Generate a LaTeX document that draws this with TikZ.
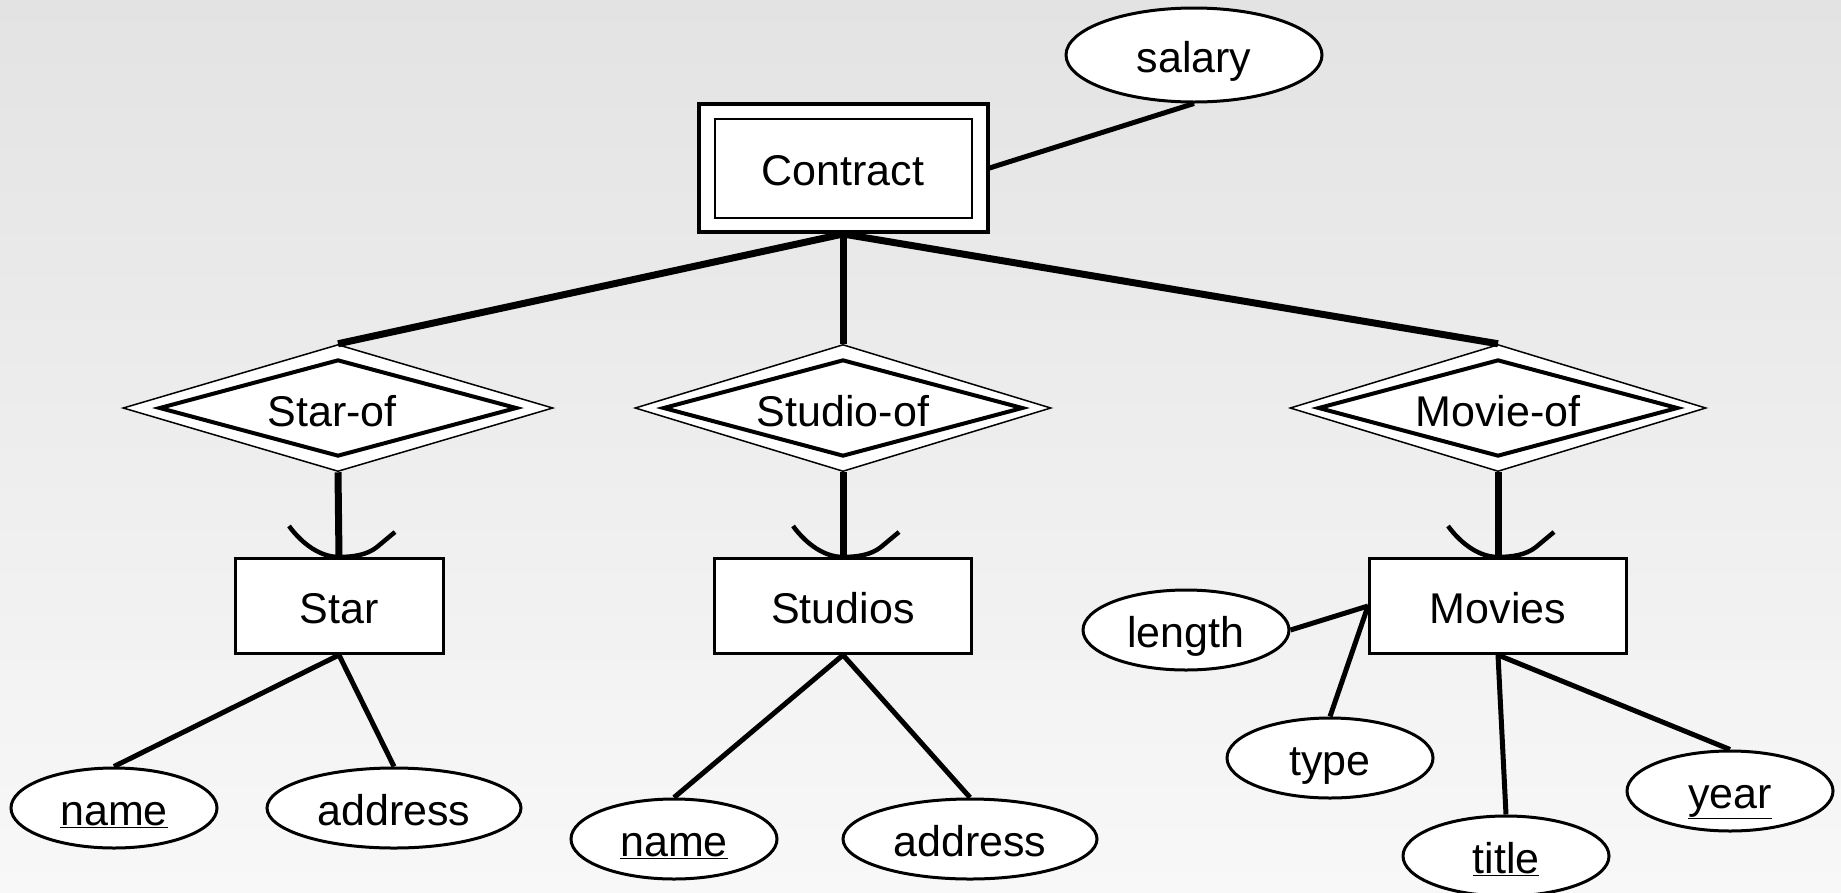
\documentclass[tikz,border=0pt]{standalone}
\usepackage{fontspec}
\setmainfont{Liberation Sans}
\usetikzlibrary{shapes.geometric,calc}
\definecolor{bgtop}{HTML}{E3E3E3}
\definecolor{bgbot}{HTML}{F8F8F8}

\tikzset{
  every node/.style={text height=34pt, text depth=0pt},
  entity/.style={draw, fill=white, rectangle, line width=3pt, minimum height=95pt, inner sep=0pt},
  weakouter/.style={draw, fill=white, rectangle, line width=4pt, minimum width=289pt, minimum height=128pt, inner sep=0pt},
  weakinner/.style={draw, fill=white, rectangle, line width=2pt, minimum width=257pt, minimum height=99pt, inner sep=0pt},
  attr/.style={draw, fill=white, ellipse, line width=3pt, minimum width=206pt, minimum height=80pt, inner sep=0pt},
  wideattr/.style={attr, minimum width=254pt},
  relouter/.style={draw, fill=white, diamond, line width=1.5pt, minimum width=416pt, minimum height=127pt, inner sep=0pt, text height=0pt},
  relinner/.style={draw, fill=white, diamond, line width=4pt, minimum width=360pt, minimum height=97pt, inner sep=0pt, text height=0pt},
  rellabel/.style={inner sep=0pt},
  link/.style={line width=5pt},
  heavylink/.style={line width=7pt},
  roundhead/.pic={
    \draw[line width=4.5pt] (-50,-31) .. controls (-36,-12) and (-18,0) .. (0,0);
    \draw[line width=4.5pt] (56,-25) -- (38,-10) .. controls (28,-2) and (14,0) .. (0,0);
  }
}

\begin{document}
\begin{tikzpicture}[x=1pt, y=-1pt, font=\fontsize{43}{51}\selectfont]
  % page and shaded backdrop
  \useasboundingbox (0,0) rectangle (1841,892);
  \shade[top color=bgtop, bottom color=bgbot] (0,0) rectangle (1841,892);

  % weak entity set
  \node[weakouter] (contractbox) at (843,168) {};
  \node[weakinner] (contract) at (contractbox) {Contract};
  \node[attr, minimum width=256pt, minimum height=94pt] (salary) at (1194,55) {salary};

  % supporting relationships
  \node[relouter, minimum width=430pt] (starofbox) at (338,408) {};
  \node[relinner, minimum width=358pt] (starof) at (starofbox) {};
  \node[rellabel] (starofname) at (332,409) {Star-of};
  \node[relouter] (studioofbox) at (843,408) {};
  \node[relinner] (studioof) at (studioofbox) {};
  \node[rellabel] (studioofname) at (843,409) {Studio-of};
  \node[relouter] (movieofbox) at (1498,408) {};
  \node[relinner] (movieof) at (movieofbox) {};
  \node[rellabel] (movieofname) at (1498,409) {Movie-of};

  % entity sets
  \node[entity, minimum width=208pt] (star) at (339,606) {Star};
  \node[entity, minimum width=257pt] (studios) at (843,606) {Studios};
  \node[entity, minimum width=257pt] (movies) at (1498,606) {Movies};

  % attributes
  \node[attr] (starname) at (114,808) {\underline{name}};
  \node[wideattr] (staraddr) at (394,808) {address};
  \node[attr] (stuname) at (674,839) {\underline{name}};
  \node[wideattr] (stuaddr) at (970,839) {address};
  \node[attr] (length) at (1186,630) {length};
  \node[attr] (type) at (1330,758) {type};
  \node[attr] (title) at (1506,856) {\underline{title}};
  \node[attr] (year) at (1730,791) {\underline{year}};

  % connectors
  \draw[link] (contractbox.east) -- (salary.south);
  \draw[heavylink] (contractbox.south) -- (starofbox.north);
  \draw[heavylink] (contractbox.south) -- (studioofbox.north);
  \draw[heavylink] (contractbox.south) -- (movieofbox.north);

  \draw[heavylink] (starofbox.south) -- (star.north);
  \draw[heavylink] (studioofbox.south) -- (studios.north);
  \draw[heavylink] (movieofbox.south) -- (movies.north);
  \pic at (star.north) {roundhead};
  \pic at (studios.north) {roundhead};
  \pic at (movies.north) {roundhead};

  \draw[link] (star.south) -- (starname.north);
  \draw[link] (star.south) -- (staraddr.north);
  \draw[link] (studios.south) -- (stuname.north);
  \draw[link] (studios.south) -- (stuaddr.north);
  \draw[link] (movies.west) -- (length.east);
  \draw[link] (movies.west) -- (type.north);
  \draw[link] (movies.south) -- (title.north);
  \draw[link] (movies.south) -- (year.north);
\end{tikzpicture}
\end{document}
